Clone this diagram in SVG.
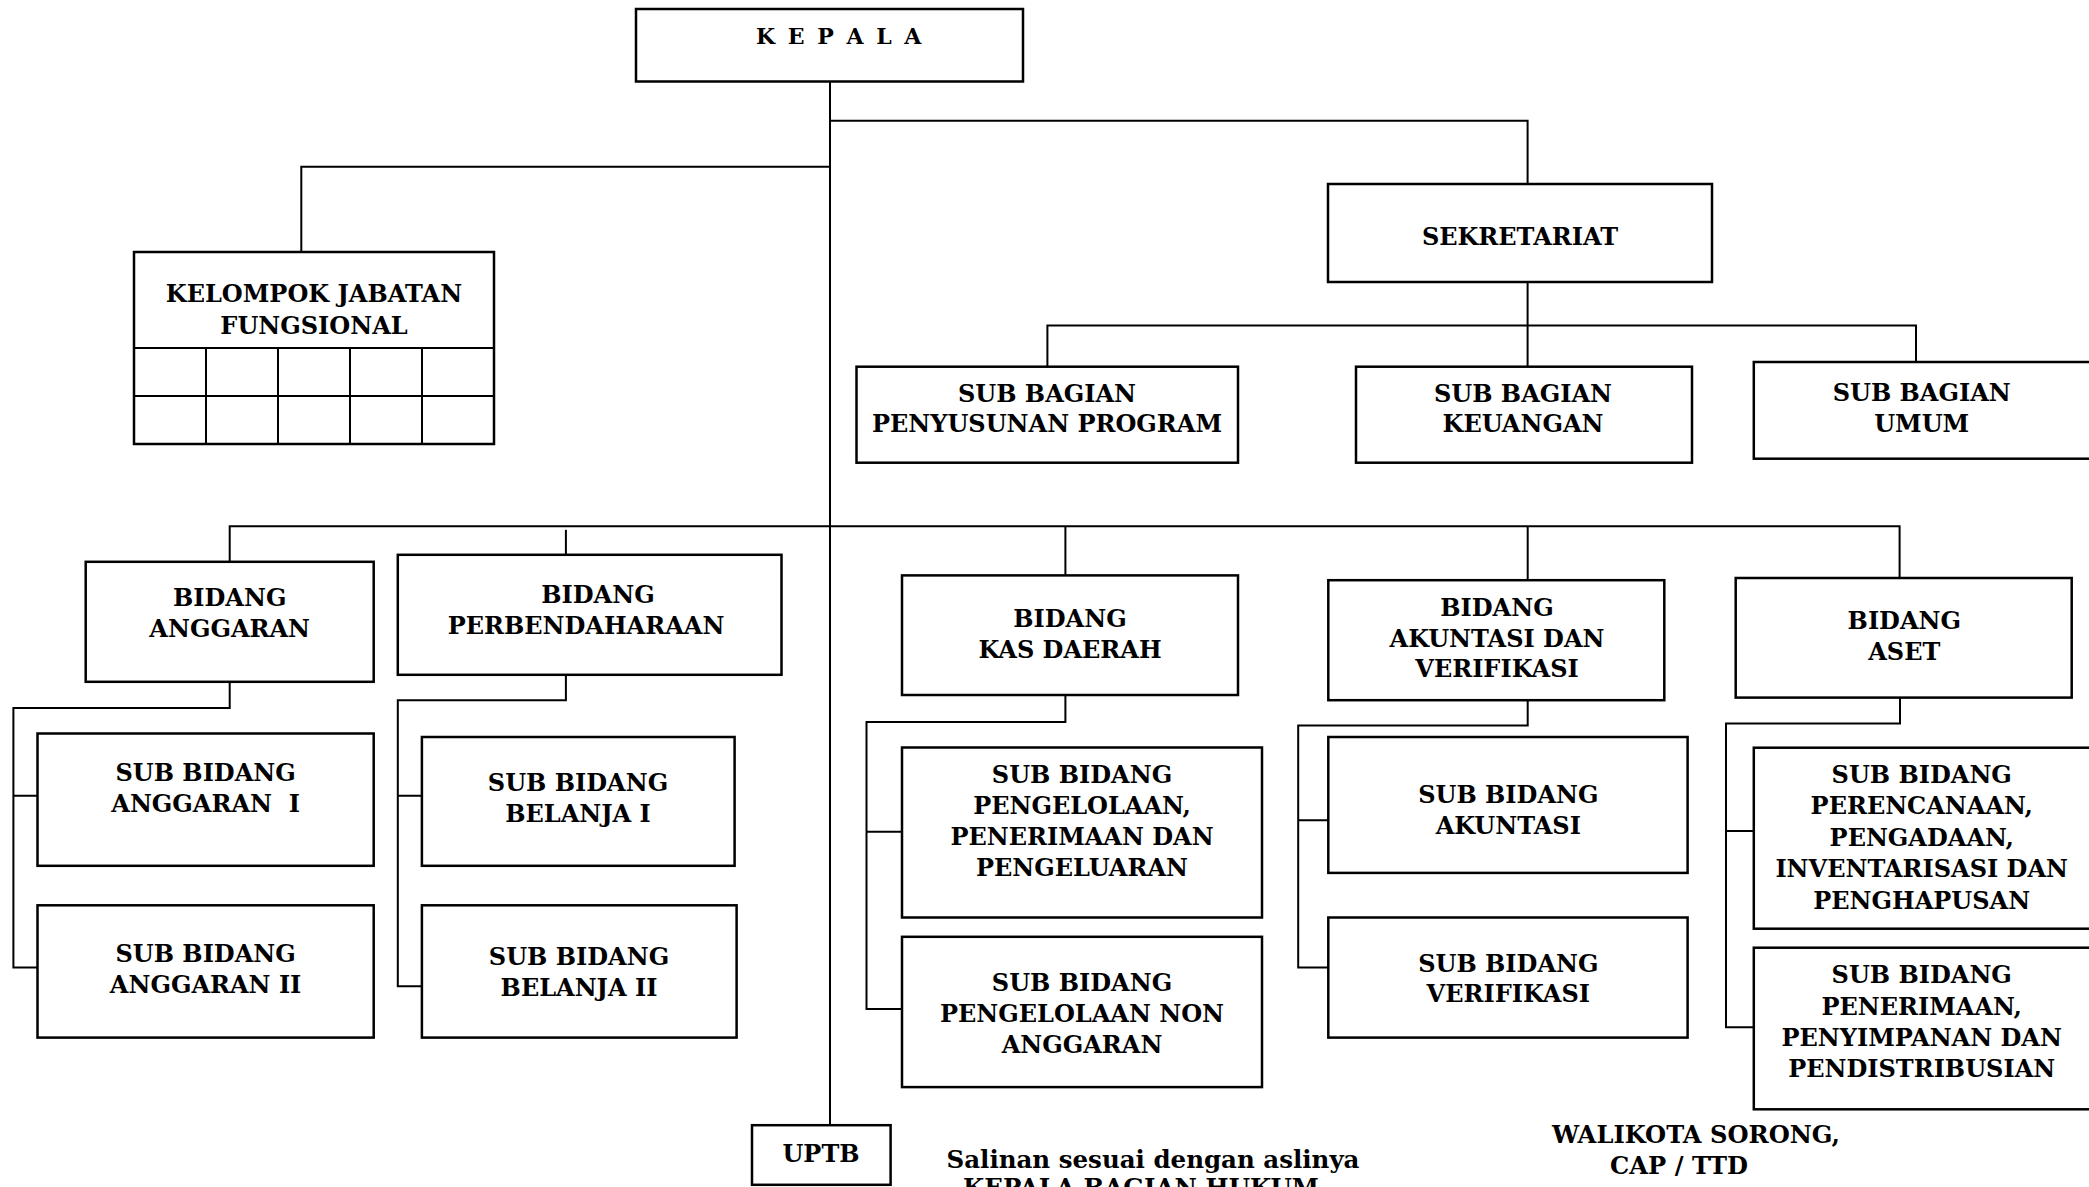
<svg xmlns="http://www.w3.org/2000/svg" width="2089" height="1187" viewBox="0 0 2089 1187">
<style>
  .box { fill: #ffffff; stroke: #000000; stroke-width: 2.5; }
  .ln { fill: none; stroke: #000000; stroke-width: 2; }
  text { font-family: "DejaVu Serif", "Liberation Serif", serif; font-weight: bold; font-size: 24px; fill: #000000; text-anchor: middle; }
  .kep { font-size: 22px; letter-spacing: 2.5px; }
  .foot { font-size: 24.2px; text-anchor: start; }
  .sal { font-size: 24.5px; }
</style>
<rect width="2089" height="1187" fill="#ffffff"/>

<g id="connectors">
  <path class="ln" d="M830 82 V1125"/>
  <path class="ln" d="M830 120.7 H1527.6 V184"/>
  <path class="ln" d="M830 166.7 H301.3 V252"/>
  <path class="ln" d="M1527.6 282 V367"/>
  <path class="ln" d="M1047.4 366.7 V325.5 H1916 V362"/>
  <path class="ln" d="M229.7 561.8 V526.3 H1899.6 V578"/>
  <path class="ln" d="M565.9 529.8 V554.8"/>
  <path class="ln" d="M1065.4 526.3 V575.4"/>
  <path class="ln" d="M1527.7 526.3 V580.2"/>
  <path class="ln" d="M229.7 681.8 V708.1 H13.4 V967.5 H37.5 M13.4 795.7 H37.5"/>
  <path class="ln" d="M565.9 674.8 V700.2 H397.8 V986.3 H421.9 M397.8 795.7 H421.9"/>
  <path class="ln" d="M1065.4 695 V722.1 H866.5 V1009.1 H902 M866.5 831.7 H902"/>
  <path class="ln" d="M1527.7 700.2 V725.6 H1298.2 V967.5 H1328.3 M1298.2 820.3 H1328.3"/>
  <path class="ln" d="M1900 697.6 V723.4 H1726 V1027.3 H1753.8 M1726 831 H1753.8"/>
</g>

<g id="kepala">
  <rect class="box" x="636" y="9" width="387" height="72.5"/>
  <text class="kep" x="840" y="44.3">K E P A L A</text>
</g>

<g id="kelompok-jabatan-fungsional">
  <rect class="box" x="134" y="252" width="360" height="192"/>
  <path class="ln" d="M134 348 H494 M134 396 H494 M206 348 V444 M278 348 V444 M350 348 V444 M422 348 V444"/>
  <text x="314" y="302">KELOMPOK JABATAN</text>
  <text x="314" y="334">FUNGSIONAL</text>
</g>

<g id="sekretariat">
  <rect class="box" x="1328" y="184" width="384" height="98"/>
  <text x="1520" y="244.5">SEKRETARIAT</text>
</g>

<g id="sub-bagian-penyusunan-program">
  <rect class="box" x="856.5" y="366.7" width="381.5" height="96"/>
  <text x="1047" y="401.7">SUB BAGIAN</text>
  <text x="1047" y="432.3">PENYUSUNAN PROGRAM</text>
</g>

<g id="sub-bagian-keuangan">
  <rect class="box" x="1356" y="366.7" width="336" height="96"/>
  <text x="1523" y="401.7">SUB BAGIAN</text>
  <text x="1523" y="432.3">KEUANGAN</text>
</g>

<g id="sub-bagian-umum">
  <rect class="box" x="1753.8" y="362" width="340" height="96.7"/>
  <text x="1921.7" y="401">SUB BAGIAN</text>
  <text x="1921.7" y="431.7">UMUM</text>
</g>

<g id="bidang-anggaran">
  <rect class="box" x="85.7" y="561.8" width="288" height="120"/>
  <text x="229.7" y="606">BIDANG</text>
  <text x="229.7" y="636.7">ANGGARAN</text>
</g>

<g id="bidang-perbendaharaan">
  <rect class="box" x="397.8" y="554.8" width="383.7" height="120"/>
  <text x="598" y="602.9">BIDANG</text>
  <text x="586" y="633.6">PERBENDAHARAAN</text>
</g>

<g id="sub-bidang-anggaran-1">
  <rect class="box" x="37.5" y="733.5" width="336.2" height="132.3"/>
  <text x="205.6" y="781.2">SUB BIDANG</text>
  <text x="205.6" y="811.9" xml:space="preserve">ANGGARAN  I</text>
</g>

<g id="sub-bidang-anggaran-2">
  <rect class="box" x="37.5" y="905.3" width="336.2" height="132.3"/>
  <text x="205.6" y="962.2">SUB BIDANG</text>
  <text x="205.6" y="992.8">ANGGARAN II</text>
</g>

<g id="sub-bidang-belanja-1">
  <rect class="box" x="421.9" y="737" width="312.7" height="128.8"/>
  <text x="578" y="791.3">SUB BIDANG</text>
  <text x="578" y="822">BELANJA I</text>
</g>

<g id="sub-bidang-belanja-2">
  <rect class="box" x="421.9" y="905.3" width="314.7" height="132.3"/>
  <text x="579" y="965.2">SUB BIDANG</text>
  <text x="579" y="995.9">BELANJA II</text>
</g>

<g id="bidang-kas-daerah">
  <rect class="box" x="902" y="575.4" width="336" height="119.6"/>
  <text x="1070" y="627">BIDANG</text>
  <text x="1070" y="657.7">KAS DAERAH</text>
</g>

<g id="sub-bidang-pengelolaan-penerimaan-pengeluaran">
  <rect class="box" x="902" y="747.5" width="360" height="170"/>
  <text x="1082" y="783">SUB BIDANG</text>
  <text x="1082" y="814.1">PENGELOLAAN,</text>
  <text x="1082" y="845.2">PENERIMAAN DAN</text>
  <text x="1082" y="875.9">PENGELUARAN</text>
</g>

<g id="sub-bidang-pengelolaan-non-anggaran">
  <rect class="box" x="902" y="936.8" width="360" height="150.3"/>
  <text x="1082" y="990.7">SUB BIDANG</text>
  <text x="1082" y="1022">PENGELOLAAN NON</text>
  <text x="1082" y="1053">ANGGARAN</text>
</g>

<g id="bidang-akuntasi-verifikasi">
  <rect class="box" x="1328.3" y="580.2" width="336" height="120"/>
  <text x="1497" y="616">BIDANG</text>
  <text x="1497" y="647.2">AKUNTASI DAN</text>
  <text x="1497" y="677.4">VERIFIKASI</text>
</g>

<g id="sub-bidang-akuntasi">
  <rect class="box" x="1328.3" y="737" width="359.3" height="135.9"/>
  <text x="1508.3" y="803.1">SUB BIDANG</text>
  <text x="1508.3" y="833.8">AKUNTASI</text>
</g>

<g id="sub-bidang-verifikasi">
  <rect class="box" x="1328.3" y="917.5" width="359.3" height="120.1"/>
  <text x="1508.3" y="971.8">SUB BIDANG</text>
  <text x="1508.3" y="1002">VERIFIKASI</text>
</g>

<g id="bidang-aset">
  <rect class="box" x="1735.7" y="578" width="336" height="119.6"/>
  <text x="1904.3" y="629.2">BIDANG</text>
  <text x="1904.3" y="659.9">ASET</text>
</g>

<g id="sub-bidang-perencanaan">
  <rect class="box" x="1753.8" y="747.7" width="340" height="181"/>
  <text x="1921.7" y="782.7">SUB BIDANG</text>
  <text x="1921.7" y="814">PERENCANAAN,</text>
  <text x="1921.7" y="845.5">PENGADAAN,</text>
  <text x="1921.7" y="877">INVENTARISASI DAN</text>
  <text x="1921.7" y="908.5">PENGHAPUSAN</text>
</g>

<g id="sub-bidang-penerimaan">
  <rect class="box" x="1753.8" y="947.7" width="340" height="161.6"/>
  <text x="1921.7" y="982.7">SUB BIDANG</text>
  <text x="1921.7" y="1015">PENERIMAAN,</text>
  <text x="1921.7" y="1046">PENYIMPANAN DAN</text>
  <text x="1921.7" y="1077.3">PENDISTRIBUSIAN</text>
</g>

<g id="uptb">
  <rect class="box" x="752" y="1125.2" width="138.6" height="59.6"/>
  <text x="821" y="1161.6">UPTB</text>
</g>

<g id="footer">
  <text class="sal" x="1153" y="1168.3">Salinan sesuai dengan aslinya</text>
  <text class="sal" x="1141" y="1196">KEPALA BAGIAN HUKUM</text>
  <text class="foot" x="1552" y="1143.3">WALIKOTA SORONG,</text>
  <text class="foot" x="1610" y="1174">CAP / TTD</text>
</g>
</svg>
